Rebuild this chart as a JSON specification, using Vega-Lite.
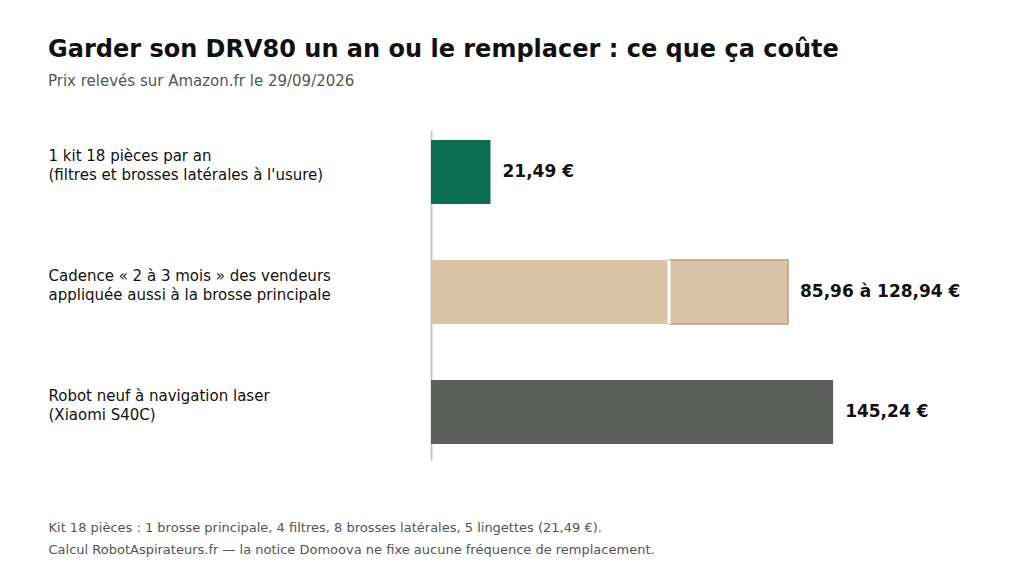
{
  "$schema": "https://vega.github.io/schema/vega-lite/v6.json",
  "autosize": {"type": "none"},
  "width": 443,
  "height": 330,
  "padding": {"left": 431, "top": 130, "right": 150, "bottom": 116},
  "background": "white",
  "config": {
    "font": "DejaVu Sans",
    "view": {"stroke": null}
  },
  "title": {
    "text": "Garder son DRV80 un an ou le remplacer : ce que ça coûte",
    "subtitle": "Prix relevés sur Amazon.fr le 29/09/2026",
    "anchor": "start",
    "frame": "group",
    "dx": -383,
    "offset": 41,
    "fontSize": 24,
    "fontWeight": "bold",
    "color": "#111111",
    "subtitleFontSize": 15,
    "subtitleColor": "#555555",
    "subtitlePadding": 12
  },
  "datasets": {
    "bars": [
      {"cat": "1 kit 18 pièces par an|(filtres et brosses latérales à l'usure)", "start": 0, "end": 21.49, "seg": "kit"},
      {"cat": "Cadence « 2 à 3 mois » des vendeurs|appliquée aussi à la brosse principale", "start": 0, "end": 85.96, "seg": "low"},
      {"cat": "Cadence « 2 à 3 mois » des vendeurs|appliquée aussi à la brosse principale", "start": 85.96, "end": 128.94, "seg": "high"},
      {"cat": "Robot neuf à navigation laser|(Xiaomi S40C)", "start": 0, "end": 145.24, "seg": "robot"}
    ],
    "labels": [
      {"cat": "1 kit 18 pièces par an|(filtres et brosses latérales à l'usure)", "end": 21.49, "label": "21,49 €"},
      {"cat": "Cadence « 2 à 3 mois » des vendeurs|appliquée aussi à la brosse principale", "end": 128.94, "label": "85,96 à 128,94 €"},
      {"cat": "Robot neuf à navigation laser|(Xiaomi S40C)", "end": 145.24, "label": "145,24 €"}
    ]
  },
  "encoding": {
    "y": {
      "field": "cat",
      "type": "nominal",
      "sort": null,
      "scale": {
        "domain": [
          "1 kit 18 pièces par an|(filtres et brosses latérales à l'usure)",
          "Cadence « 2 à 3 mois » des vendeurs|appliquée aussi à la brosse principale",
          "Robot neuf à navigation laser|(Xiaomi S40C)"
        ],
        "paddingInner": 0.4667,
        "paddingOuter": 0.1083,
        "align": 0.385
      },
      "axis": {
        "title": null,
        "ticks": false,
        "tickSize": 0,
        "labelPadding": 383,
        "labelAlign": "left",
        "labelBaseline": "middle",
        "labelOffset": -16,
        "labelFontSize": 15,
        "labelColor": "#111111",
        "labelLineHeight": 18.5,
        "labelExpr": "split(datum.label, '|')",
        "labelLimit": 400,
        "domainColor": "#c8c8c8",
        "domainWidth": 2,
        "grid": false
      }
    }
  },
  "layer": [
    {
      "data": {"name": "bars"},
      "mark": {"type": "bar", "strokeWidth": 1.5},
      "encoding": {
        "x": {
          "field": "start",
          "type": "quantitative",
          "scale": {"domain": [0, 160], "nice": false},
          "axis": {
            "labels": false,
            "ticks": false,
            "domain": false,
            "grid": false,
            "title": [
              "Kit 18 pièces : 1 brosse principale, 4 filtres, 8 brosses latérales, 5 lingettes (21,49 €).",
              "Calcul RobotAspirateurs.fr — la notice Domoova ne fixe aucune fréquence de remplacement."
            ],
            "titleX": -383,
            "titleY": 71,
            "titleAlign": "left",
            "titleBaseline": "alphabetic",
            "titleFontSize": 13,
            "titleFontWeight": "normal",
            "titleColor": "#555555",
            "titleLineHeight": 22,
            "titleLimit": 800
          }
        },
        "x2": {"field": "end"},
        "color": {
          "field": "seg",
          "type": "nominal",
          "scale": {
            "domain": ["kit", "low", "high", "robot"],
            "range": ["#0b6e50", "#d9c4a5", "#d9c4a5", "#5b605b"]
          },
          "legend": null
        },
        "stroke": {
          "condition": {"test": "datum.seg === 'high'", "value": "#b59e7c"},
          "value": null
        }
      }
    },
    {
      "data": {"name": "bars"},
      "transform": [{"filter": "datum.seg === 'high'"}],
      "mark": {"type": "tick", "color": "white", "thickness": 3, "size": 64, "opacity": 1},
      "encoding": {
        "x": {"field": "start", "type": "quantitative"}
      }
    },
    {
      "data": {"name": "labels"},
      "mark": {"type": "text", "align": "left", "baseline": "middle", "dx": 12, "fontSize": 17, "fontWeight": "bold", "color": "#111111"},
      "encoding": {
        "x": {"field": "end", "type": "quantitative"},
        "text": {"field": "label"}
      }
    }
  ]
}
